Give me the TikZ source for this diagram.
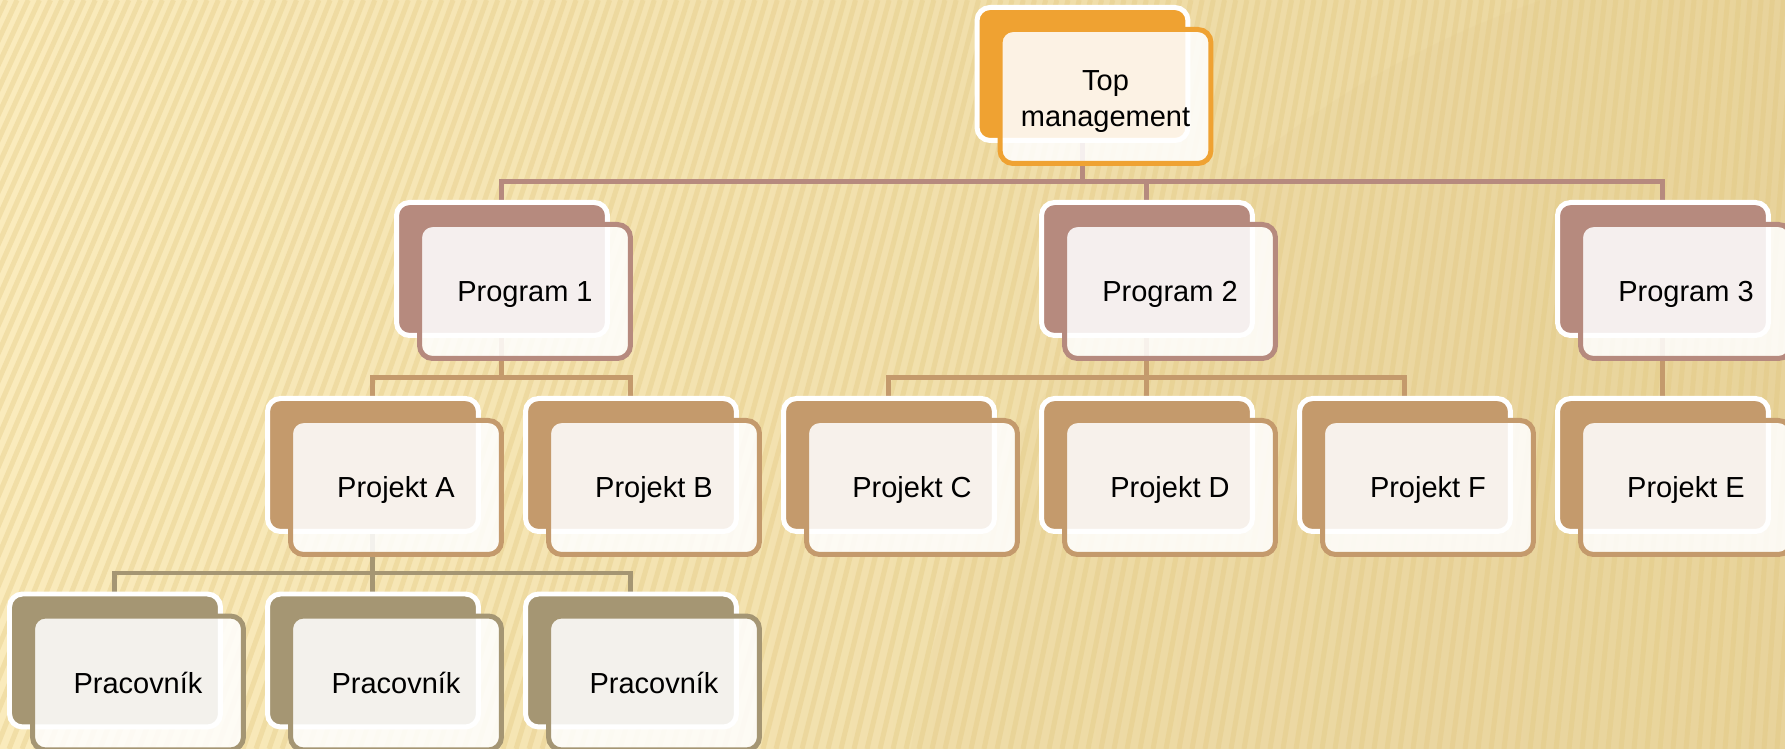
\documentclass[tikz,border=0pt]{standalone}
\usepackage{fontspec}
\setmainfont{Liberation Sans}
\usepackage{tikz}
\usetikzlibrary{calc}
\usepackage{xcolor}

\definecolor{topC}{HTML}{EFA232}
\definecolor{progC}{HTML}{B68A7E}
\definecolor{projC}{HTML}{C49A6C}
\definecolor{workC}{HTML}{A59673}
\definecolor{bgA}{HTML}{FAEBBC}
\definecolor{bgB}{HTML}{FCF0C8}
\definecolor{bgC}{HTML}{E9D59D}
\definecolor{stripeC}{HTML}{E2C77E}

\pgfdeclarelayer{bg}
\pgfdeclarelayer{links}
\pgfsetlayers{bg,links,main}

\tikzset{
  backbox/.style={draw=white, fill=#1, line width=0.1cm, rounded corners=0.26cm,
    minimum width=4.22cm, minimum height=2.66cm, inner sep=0pt, outer sep=0pt, anchor=north west},
  frontbox/.style={draw=#1, fill=white, fill opacity=0.87, text opacity=1, line width=0.1cm,
    rounded corners=0.26cm, minimum width=4.22cm, minimum height=2.68cm, inner sep=0pt, outer sep=0pt,
    anchor=north west, align=center, font=\fontsize{16.5}{20}\selectfont},
  oneline/.style={text height=11.8pt, text depth=0pt},
  link/.style={draw=#1, line width=0.1cm},
  stripe/.style={draw=stripeC, line width=0.1cm, opacity=0.35}
}

\begin{document}
\begin{tikzpicture}[x=0.02cm, y=-0.02cm]
  \useasboundingbox (0,0) rectangle (1785,749);

  % background
  \begin{pgfonlayer}{bg}
    \shade[left color=bgA, middle color=bgB, right color=bgC] (0,0) rectangle (1785,749);
    \begin{scope}
      \clip (0,0) rectangle (1785,749);
      \fill[bgC!80!brown, opacity=0.10] (1850,900) circle[radius=951];
      \foreach \b in {-420,-407,...,1800}
        \draw[stripe] (\b,749) -- ({\b+300-0.14*\b},0);
    \end{scope}
  \end{pgfonlayer}

  % top
  \node[backbox=topC] (top-b) at (977,7.5) {};
  \node[frontbox=topC] (top) at ($(top-b.north west)+(23,22)$) {};
  \node[align=center, inner sep=0pt, font=\fontsize{16.5}{20}\selectfont] (top-t)
    at ($(top.center)+(0,5)$) {Top\\management};

  % boxes
  \foreach \n/\x/\y/\c/\t in {
      p1/396.5/202.5/progC/Program 1, p2/1041.5/202.5/progC/Program 2, p3/1557.5/202.5/progC/Program 3,
      pa/267.5/398.5/projC/Projekt A, pb/525.5/398.5/projC/Projekt B, pc/783.5/398.5/projC/Projekt C,
      pd/1041.5/398.5/projC/Projekt D, pf/1299.5/398.5/projC/Projekt F, pe/1557.5/398.5/projC/Projekt E,
      w1/9.5/594/workC/Pracovník, w2/267.5/594/workC/Pracovník, w3/525.5/594/workC/Pracovník}{
    \node[backbox=\c] (\n-b) at (\x,\y) {};
    \node[frontbox=\c, oneline] (\n) at ($(\n-b.north west)+(23,22)$) {\t};
  }

  % connectors
  \begin{pgfonlayer}{links}
    \foreach \p/\k/\c in {top/p1/progC, top/p2/progC, top/p3/progC,
        p1/pa/projC, p1/pb/projC, p2/pc/projC, p2/pd/projC, p2/pf/projC, p3/pe/projC,
        pa/w1/workC, pa/w2/workC, pa/w3/workC}
      \draw[link=\c] (\p-b.center) |- ($(\k-b.north)+(0,-21)$) -- (\k-b.north);
  \end{pgfonlayer}
\end{tikzpicture}
\end{document}
